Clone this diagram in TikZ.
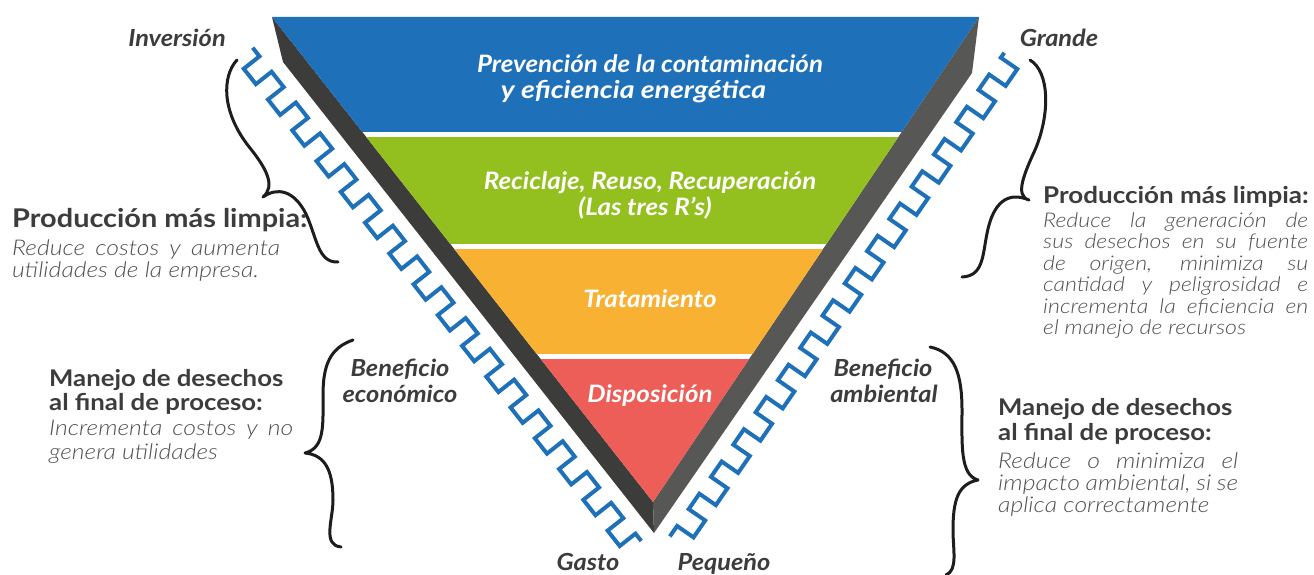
\documentclass[tikz,border=0pt]{standalone}
\usepackage{fontspec}
\setmainfont{Lato}
\newfontfamily\wideA[FakeStretch=1.08]{Lato}
\newfontfamily\wideB[FakeStretch=1.16]{Lato}
\newfontfamily\wideH[FakeStretch=1.12]{Lato}
\IfFontExistsTF{Lato Light}{\newfontfamily\lightfont[FakeStretch=1.14]{Lato Light}}{\newfontfamily\lightfont[FakeStretch=1.14]{Lato}}
\definecolor{cblue}{HTML}{1E71B8}
\definecolor{cgreen}{HTML}{93C01F}
\definecolor{corange}{HTML}{F8B133}
\definecolor{cred}{HTML}{EC5E57}
\definecolor{darkL}{HTML}{3C3C3B}
\definecolor{darkR}{HTML}{575756}
\definecolor{txtdark}{HTML}{3C3C3B}
\definecolor{txtgray}{HTML}{505050}
\definecolor{bracecol}{HTML}{1D1D1B}
\tikzset{
  layertxt/.style={font=\wideA\bfseries\itshape\fontsize{24}{28}\selectfont, text=white, inner sep=0pt, anchor=mid, yshift=-5.5pt},
  sidelbl/.style={font=\wideA\bfseries\itshape\fontsize{23.5}{28}\selectfont, text=txtdark, inner sep=0pt, anchor=mid, yshift=-5.5pt},
  headtxt/.style={font=\wideH\bfseries\fontsize{23}{26}\selectfont, text=txtdark, inner sep=0pt, anchor=mid west, yshift=-5.5pt},
  desctxt/.style={font=\lightfont\itshape\fontsize{21.7}{24}\selectfont, text=txtgray, inner sep=0pt, anchor=mid west, yshift=-5.5pt},
  meander/.style={draw=cblue, line width=4pt, line join=miter, line cap=butt},
  bracestyle/.style={draw=bracecol, line width=3pt, line cap=round, line join=round}
}
\begin{document}
\begin{tikzpicture}[x=1pt,y=-1pt]
\useasboundingbox (0,0) rectangle (1314,575);
\fill[white] (0,0) rectangle (1314,575);
% triangle geometry
\coordinate (TL) at (272,17);
\coordinate (TR) at (979,17);
\coordinate (A) at (653,502);
\coordinate (OL) at (283,62);
\coordinate (OR) at (972,73);
\coordinate (B) at (654,533);
\fill[darkL] (TL) -- (OL) -- (B) -- (A) -- cycle;
\fill[darkR] (TR) -- (OR) -- (B) -- (A) -- cycle;
\begin{scope}
  \clip (TL) -- (TR) -- (A) -- cycle;
  \fill[cblue] (250,0) rectangle (1000,132);
  \fill[cgreen] (250,137) rectangle (1000,244);
  \fill[corange] (250,249) rectangle (1000,354);
  \fill[cred] (250,359) rectangle (1000,515);
\end{scope}
% meanders
\begin{scope}[shift={(283,62)}, x={(0.6188pt,-0.7855pt)}, y={(-0.7855pt,-0.6188pt)}]
  \draw[meander] (-30,15) \foreach \k in {0,...,15} { -- ({-19+39.2*\k},15) -- ({-19+39.2*\k},35) -- ({0.6+39.2*\k},35) -- ({0.6+39.2*\k},15) } -- (598,15);
\end{scope}
\begin{scope}[shift={(972,73)}, x={(-0.5687pt,-0.8226pt)}, y={(0.8226pt,-0.5687pt)}]
  \draw[meander] (-35,15) \foreach \k in {0,...,14} { -- ({-29+39.2*\k},15) -- ({-29+39.2*\k},35) -- ({-8.5+39.2*\k},35) -- ({-8.5+39.2*\k},15) } -- (553,15);
\end{scope}
% braces
\draw[bracestyle] (237,60) .. controls (222,76) and (221,112) .. (250,148) .. controls (266,168) and (276,186) .. (263,197) .. controls (277,187) and (294,190) .. (306,214) .. controls (317,238) and (318,263) .. (338,262);
\draw[bracestyle] (1030,60) .. controls (1050,72) and (1050,115) .. (1035,150) .. controls (1025,172) and (1014,196) .. (1029,200) .. controls (1010,192) and (996,200) .. (989,225) .. controls (982,250) and (986,276) .. (962,277);
\draw[bracestyle] (353,340) .. controls (330,348) and (323,365) .. (323,395) .. controls (323,425) and (325,448) .. (305,453) .. controls (325,455) and (333,470) .. (333,500) .. controls (333,520) and (322,545) .. (341,547);
\draw[bracestyle] (930,347) .. controls (955,352) and (962,375) .. (962,410) .. controls (962,445) and (960,475) .. (978,480) .. controls (958,484) and (953,500) .. (953,530) .. controls (953,550) and (958,570) .. (946,575);
% layer texts
\node[layertxt] (l1a) at (650,64) {Prevención de la contaminación};
\node[layertxt, font=\wideB\bfseries\itshape\fontsize{24.5}{28}\selectfont] (l1b) at (633.5,90) {y eficiencia energética};
\node[layertxt] (l2a) at (650,181) {Reciclaje, Reuso, Recuperación};
\node[layertxt] (l2b) at (645,207) {(Las tres R’s)};
\node[layertxt] (l3) at (650,299) {Tratamiento};
\node[layertxt] (l4) at (650,394) {Disposición};
% side labels
\node[sidelbl] (inv) at (177,38) {Inversión};
\node[sidelbl] (gra) at (1059,38) {Grande};
\node[sidelbl] (gas) at (588,562) {Gasto};
\node[sidelbl] (peq) at (724,562) {Pequeño};
\node[sidelbl] (be1) at (400,368) {Beneficio};
\node[sidelbl] (be2) at (400,394) {económico};
\node[sidelbl] (ba1) at (883,368) {Beneficio};
\node[sidelbl] (ba2) at (884,394) {ambiental};
% left top block
\node[headtxt, font=\wideH\bfseries\fontsize{25.8}{28}\selectfont] (lp) at (12,219) {Producción más limpia:};
\node[desctxt] (lp1) at (12,247) {\makebox[268pt][s]{Reduce costos y aumenta}};
\node[desctxt] (lp2) at (12,269) {utilidades de la empresa.};
% left bottom block
\node[headtxt] (lm1) at (49,378) {Manejo de desechos};
\node[headtxt] (lm2) at (49,402) {al final de proceso:};
\node[desctxt] (lm3) at (49,427) {\makebox[244pt][s]{Incrementa costos y no}};
\node[desctxt] (lm4) at (49,451) {genera utilidades};
% right top block
\node[headtxt, font=\wideH\bfseries\fontsize{23.2}{26}\selectfont] (rp) at (1043,195) {Producción más limpia:};
\begin{scope}[desctxt/.append style={font=\lightfont\itshape\fontsize{20.3}{23}\selectfont}]
\node[desctxt] (rp1) at (1043,219) {\makebox[265pt][s]{Reduce la generación de}};
\node[desctxt] (rp2) at (1043,240.5) {\makebox[265pt][s]{sus desechos en su fuente}};
\node[desctxt] (rp3) at (1043,262) {\makebox[265pt][s]{de origen, minimiza su}};
\node[desctxt] (rp4) at (1043,283.5) {\makebox[265pt][s]{cantidad y peligrosidad e}};
\node[desctxt] (rp5) at (1043,305) {\makebox[265pt][s]{incrementa la eficiencia en}};
\node[desctxt] (rp6) at (1043,326.5) {el manejo de recursos};
\end{scope}
% right bottom block
\node[headtxt] (rm1) at (998,407) {Manejo de desechos};
\node[headtxt] (rm2) at (998,432) {al final de proceso:};
\node[desctxt] (rm3) at (998,460) {\makebox[240pt][s]{Reduce o minimiza el}};
\node[desctxt] (rm4) at (998,482) {\makebox[240pt][s]{impacto ambiental, si se}};
\node[desctxt] (rm5) at (998,504) {aplica correctamente};
\end{tikzpicture}
\end{document}
